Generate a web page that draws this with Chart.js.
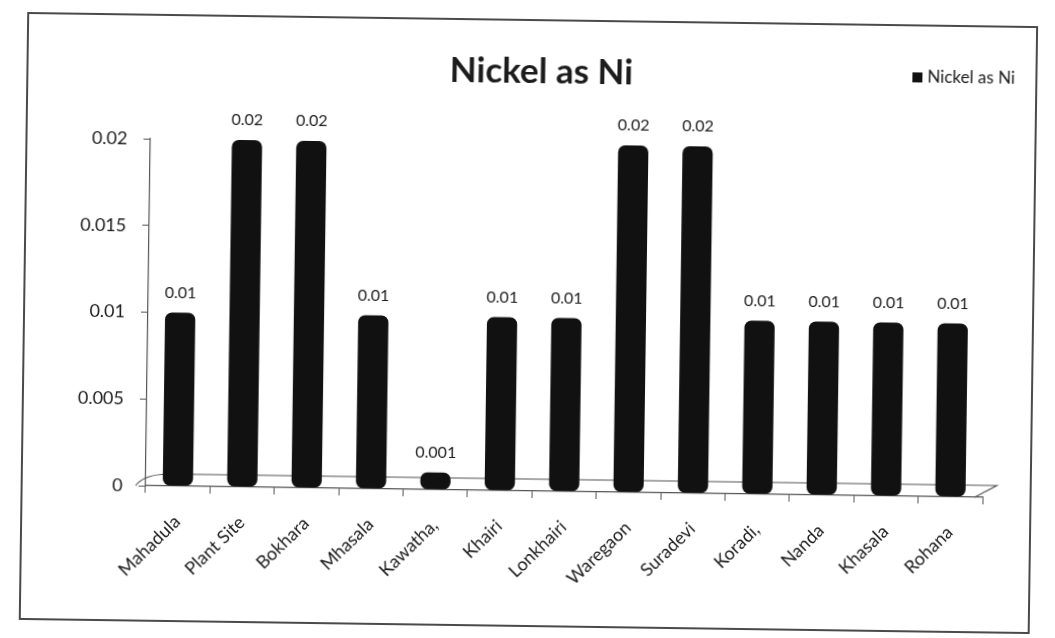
<!DOCTYPE html>
<html>
<head>
<meta charset="utf-8">
<title>Nickel as Ni</title>
<script src="https://cdn.jsdelivr.net/npm/chart.js@4.4.1/dist/chart.umd.min.js"></script>
<style>
  html, body { margin: 0; padding: 0; background: #ffffff; overflow: hidden; }
  #wrap { position: absolute; left: 0; top: 0; width: 1055px; height: 638px; transform: rotate(0.8deg); transform-origin: 50% 50%; }
  canvas { display: block; }
</style>
</head>
<body>
<div id="wrap"><canvas id="chart" width="1055" height="638"></canvas></div>
<script>
// Sampling sites along the x axis
const categories = ['Mahadula', 'Plant Site', 'Bokhara', 'Mhasala', 'Kawatha,', 'Khairi',
  'Lonkhairi', 'Waregaon', 'Suradevi', 'Koradi,', 'Nanda', 'Khasala', 'Rohana'];

// Nickel as Ni concentration per site
const nickelValues = [0.01, 0.02, 0.02, 0.01, 0.001, 0.01, 0.01, 0.02, 0.02, 0.01, 0.01, 0.01, 0.01];

// Value axis tick labels
const yTicks = [0, 0.005, 0.01, 0.015, 0.02];

const seriesName = 'Nickel as Ni';
const textColor = '#1c1c1c';

// Page frame round the whole chart
const framePlugin = {
  id: 'frame',
  beforeDraw(chart) {
    const ctx = chart.ctx;
    ctx.save();
    ctx.fillStyle = '#ffffff';
    ctx.fillRect(0, 0, chart.width, chart.height);
    ctx.strokeStyle = '#4a4a4a';
    ctx.lineWidth = 2;
    ctx.strokeRect(24, 20, chart.width - 46, chart.height - 32);
    ctx.restore();
  }
};

// Chart heading
const headingPlugin = {
  id: 'heading',
  afterDraw(chart) {
    const ctx = chart.ctx;
    ctx.save();
    ctx.font = 'bold 35px Lato';
    ctx.fillStyle = textColor;
    ctx.textAlign = 'center';
    ctx.textBaseline = 'middle';
    ctx.fillText(seriesName, 538, 72);
    ctx.restore();
  }
};

// Thin floor under the bars
const floorPlugin = {
  id: 'floor',
  beforeDatasetsDraw(chart) {
    const { left, right, bottom } = chart.chartArea;
    const ctx = chart.ctx;
    ctx.save();
    ctx.strokeStyle = '#555555';
    ctx.lineWidth = 1.2;
    ctx.beginPath();
    ctx.moveTo(left - 10, bottom);
    ctx.quadraticCurveTo(left - 2, bottom - 11, left + 22, bottom - 12);
    ctx.lineTo(right + 14, bottom - 12);
    ctx.lineTo(right - 8, bottom);
    ctx.stroke();
    ctx.restore();
  }
};

// Value printed above each bar
const valueLabelPlugin = {
  id: 'valueLabels',
  afterDatasetsDraw(chart) {
    const ctx = chart.ctx;
    const meta = chart.getDatasetMeta(0);
    const values = chart.data.datasets[0].data;
    ctx.save();
    ctx.font = '16px Lato';
    ctx.fillStyle = textColor;
    ctx.textAlign = 'center';
    ctx.textBaseline = 'middle';
    meta.data.forEach((bar, i) => {
      ctx.fillText(String(values[i]), bar.x, bar.y - 20);
    });
    ctx.restore();
  }
};

// Legend entry at the top right
const legendPlugin = {
  id: 'cornerLegend',
  afterDraw(chart) {
    const ctx = chart.ctx;
    const ds = chart.data.datasets[0];
    const x = chart.width - 146;
    const y = 72;
    ctx.save();
    ctx.fillStyle = ds.backgroundColor;
    ctx.fillRect(x, y - 5, 10, 10);
    ctx.fillStyle = textColor;
    ctx.font = '17px Lato';
    ctx.textBaseline = 'middle';
    ctx.fillText(ds.label, x + 15, y);
    ctx.restore();
  }
};

new Chart(document.getElementById('chart'), {
  type: 'bar',
  data: {
    labels: categories,
    datasets: [{
      label: seriesName,
      data: nickelValues,
      backgroundColor: '#111111',
      borderRadius: 7,
      borderSkipped: false,
      categoryPercentage: 1.0,
      barPercentage: 0.47
    }]
  },
  options: {
    responsive: false,
    animation: false,
    devicePixelRatio: 1,
    layout: { padding: { left: 0, right: 70, top: 144, bottom: 0 } },
    plugins: {
      legend: { display: false },
      tooltip: { enabled: false },
      title: { display: false }
    },
    scales: {
      y: {
        min: 0,
        max: 0.02,
        afterBuildTicks(scale) { scale.ticks = yTicks.map(v => ({ value: v })); },
        afterFit(scale) { scale.width = 148; },
        ticks: {
          color: textColor,
          font: { family: 'Lato', size: 18 },
          padding: 16,
          callback: v => String(v)
        },
        grid: { display: true, drawOnChartArea: false, drawTicks: true, tickLength: 7, color: '#555555' },
        border: { display: true, color: '#555555', width: 1.2 }
      },
      x: {
        afterFit(scale) { scale.height = 147; },
        ticks: {
          color: textColor,
          font: { family: 'Lato', size: 18 },
          minRotation: 45,
          maxRotation: 45,
          padding: 18,
          autoSkip: false
        },
        grid: { display: true, offset: true, drawOnChartArea: false, drawTicks: true, tickLength: 7, color: '#555555' },
        border: { display: true, color: '#555555', width: 1.2 }
      }
    }
  },
  plugins: [framePlugin, floorPlugin, valueLabelPlugin, legendPlugin, headingPlugin]
});
</script>
</body>
</html>
